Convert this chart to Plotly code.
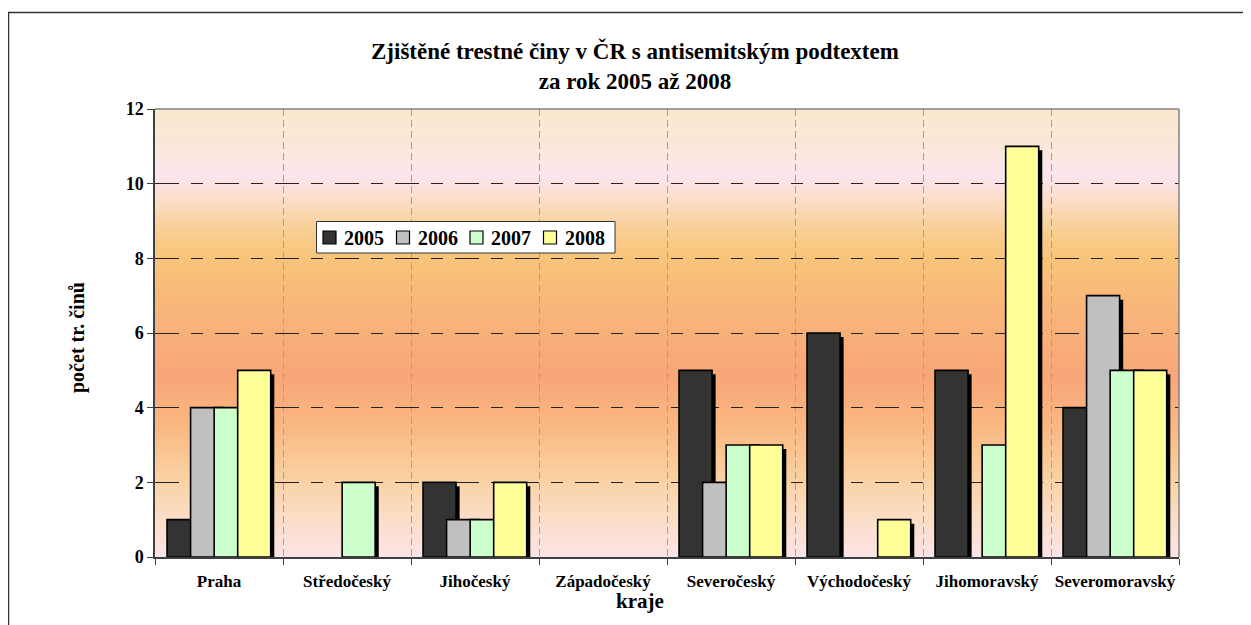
import plotly.graph_objects as go

# ---------------- data ----------------
categories = ["Praha", "Středočeský", "Jihočeský", "Západočeský",
              "Severočeský", "Východočeský", "Jihomoravský", "Severomoravský"]
years = ["2005", "2006", "2007", "2008"]
v2005 = [1, 0, 2, 0, 5, 6, 5, 4]
v2006 = [4, 0, 1, 0, 2, 0, 0, 7]
v2007 = [4, 2, 1, 0, 3, 0, 3, 5]
v2008 = [5, 0, 2, 0, 3, 1, 11, 5]
y_tick_values = [0, 2, 4, 6, 8, 10, 12]
title_text = "Zjištěné trestné činy v ČR s antisemitským podtextem<br>za rok 2005 až 2008"
y_title = "počet tr. činů"
x_title = "kraje"

series = [v2005, v2006, v2007, v2008]
colors = ["#333333", "#C0C0C0", "#CCFFCC", "#FFFF99"]

# ---------------- layout geometry (screen pixels, page has 8px body margin) ----------------
W, H = 1251, 625
OFF = 8
PL, PR, PT, PB = 155, 1179, 109, 557
pw, ph = PR - PL, PB - PT


def px_to_paper_x(px):
    return (px - PL) / pw


def px_to_paper_y(py):
    return (PB - py) / ph


FONT = "Liberation Serif, Times New Roman, serif"

fig = go.Figure()

bar_w = 0.258
step = 0.184
first = -0.406
sh_dx = 0.028
sh_dy = 4 * 12 / ph

for i, (yr, vals, col) in enumerate(zip(years, series, colors)):
    off = first + i * step
    yv = [v if v else None for v in vals]
    fig.add_trace(go.Bar(
        x=categories, y=yv, base=[-sh_dy] * len(vals), offset=off + sh_dx, width=bar_w,
        marker=dict(color="black", line=dict(width=0)), showlegend=False, hoverinfo="skip"))
    fig.add_trace(go.Bar(
        x=categories, y=yv, offset=off, width=bar_w, name=yr, showlegend=False,
        marker=dict(color=col, line=dict(color="black", width=1.6))))

# ---------------- background gradient ----------------
stops = [
    (0.0, (252, 228, 230)),
    (1.0, (251, 222, 200)),
    (2.2, (250, 208, 160)),
    (3.5, (249, 184, 131)),
    (4.8, (248, 166, 120)),
    (6.5, (248, 180, 122)),
    (8.0, (248, 196, 122)),
    (8.6, (249, 204, 140)),
    (9.5, (251, 220, 196)),
    (10.2, (252, 228, 238)),
    (11.0, (251, 231, 218)),
    (12.0, (250, 233, 205)),
]


def grad(v):
    for (a, ca), (b, cb) in zip(stops[:-1], stops[1:]):
        if a <= v <= b:
            t = (v - a) / (b - a)
            return "rgb(%d,%d,%d)" % tuple(round(ca[k] + (cb[k] - ca[k]) * t) for k in range(3))
    return "rgb(%d,%d,%d)" % stops[-1][1]


shapes = []
N = 150
for i in range(N):
    y0 = 12 * i / N
    y1 = 12 * (i + 1) / N
    shapes.append(dict(type="rect", xref="paper", yref="y", x0=0, x1=1, y0=y0,
                       y1=min(12, y1 + 0.02), fillcolor=grad((y0 + y1) / 2),
                       line=dict(width=0), layer="below"))

shapes.append(dict(type="line", xref="paper", yref="paper", x0=0, x1=1, y0=1, y1=1,
                   line=dict(color="#808080", width=1.5)))
shapes.append(dict(type="line", xref="paper", yref="paper", x0=1, x1=1, y0=0, y1=1,
                   line=dict(color="#808080", width=1.5)))
shapes.append(dict(type="rect", xref="paper", yref="paper",
                   x0=px_to_paper_x(8.5), x1=px_to_paper_x(1320),
                   y0=px_to_paper_y(720), y1=px_to_paper_y(12.5),
                   line=dict(color="#333333", width=1.5), fillcolor="rgba(0,0,0,0)"))

annotations = [
    dict(text=title_text, xref="paper", yref="paper", x=px_to_paper_x(635),
         y=px_to_paper_y(66), xanchor="center", yanchor="middle", showarrow=False,
         font=dict(family=FONT, size=23, color="black", weight="bold")),
    dict(text=y_title, xref="paper", yref="paper", x=px_to_paper_x(77),
         y=px_to_paper_y(338), xanchor="center", yanchor="middle", textangle=-90,
         showarrow=False, font=dict(family=FONT, size=20, color="black", weight="bold")),
    dict(text=x_title, xref="paper", yref="paper", x=px_to_paper_x(640),
         y=px_to_paper_y(601), xanchor="center", yanchor="middle", showarrow=False,
         font=dict(family=FONT, size=21, color="black", weight="bold")),
]

# ---------------- legend box (drawn) ----------------
LG_L, LG_T, LG_R, LG_B = 316.5, 221.5, 615, 253
shapes.append(dict(type="rect", xref="paper", yref="paper",
                   x0=px_to_paper_x(LG_L), x1=px_to_paper_x(LG_R),
                   y0=px_to_paper_y(LG_B), y1=px_to_paper_y(LG_T),
                   line=dict(color="#333333", width=1), fillcolor="white"))
for i, (yr, col) in enumerate(zip(years, colors)):
    sx = 323 + 73.5 * i
    shapes.append(dict(type="rect", xref="paper", yref="paper",
                       x0=px_to_paper_x(sx), x1=px_to_paper_x(sx + 13),
                       y0=px_to_paper_y(244), y1=px_to_paper_y(231),
                       line=dict(color="black", width=1.2), fillcolor=col))
    annotations.append(dict(text=yr, xref="paper", yref="paper",
                            x=px_to_paper_x(sx + 19), y=px_to_paper_y(238),
                            xanchor="left", yanchor="middle", showarrow=False,
                            font=dict(family=FONT, size=20, color="black", weight="bold")))

fig.update_layout(
    width=W, height=H,
    margin=dict(l=PL - OFF, r=W - (PR - OFF), t=PT - OFF, b=H - (PB - OFF), autoexpand=False),
    paper_bgcolor="white", plot_bgcolor="white",
    barmode="overlay",
    shapes=shapes,
    annotations=annotations,
    showlegend=False,
    xaxis=dict(type="category", categoryorder="array", categoryarray=categories,
               range=[-0.5, 7.5], tickson="boundaries", ticks="outside", ticklen=6,
               tickcolor="#404040", showline=True, linecolor="#404040", linewidth=1.5,
               showgrid=True, gridcolor="#A0A0A0", griddash="7px,4px", gridwidth=1,
               tickangle=0, ticklabelstandoff=8,
               tickfont=dict(family=FONT, size=17, color="black", weight="bold"),
               fixedrange=True),
    yaxis=dict(range=[0, 12], tickvals=y_tick_values, ticks="outside", ticklen=6,
               tickcolor="#404040", showline=True, linecolor="#404040", linewidth=1.5,
               showgrid=True, gridcolor="#222222", griddash="24px,12px,12px,12px",
               gridwidth=1, zeroline=False,
               tickfont=dict(family=FONT, size=18, color="black", weight="bold"),
               fixedrange=True),
)

fig.write_html("out.html")
